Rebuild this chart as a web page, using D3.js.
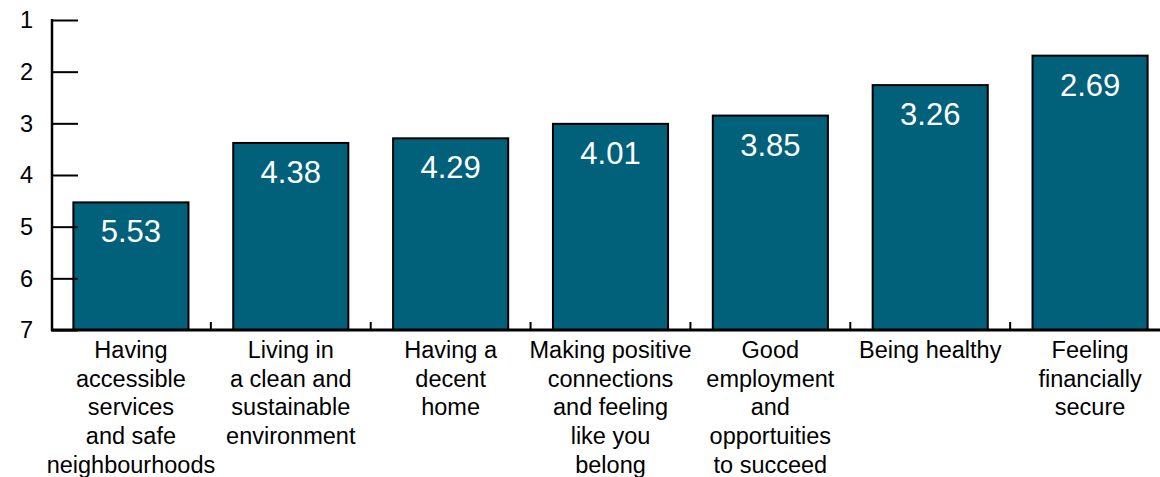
<!DOCTYPE html>
<html>
<head>
<meta charset="utf-8">
<script src="https://cdn.jsdelivr.net/npm/d3@7"></script>
<style>
  html, body { margin: 0; padding: 0; background: #fff; }
  svg { display: block; font-family: "Liberation Sans", Arial, Helvetica, sans-serif; }
</style>
</head>
<body>
<svg id="chart" width="1160" height="477"></svg>
<script>
// Average rank of each priority (1 = most important)
const categories = [
  "Having accessible services and safe neighbourhoods",
  "Living in a clean and sustainable environment",
  "Having a decent home",
  "Making positive connections and feeling like you belong",
  "Good employment and opportuities to succeed",
  "Being healthy",
  "Feeling financially secure"
];
const categoryLines = [
  ["Having", "accessible", "services", "and safe", "neighbourhoods"],
  ["Living in", "a clean and", "sustainable", "environment"],
  ["Having a", "decent", "home"],
  ["Making positive", "connections", "and feeling", "like you", "belong"],
  ["Good", "employment", "and", "opportuities", "to succeed"],
  ["Being healthy"],
  ["Feeling", "financially", "secure"]
];
const averageRank = [5.53, 4.38, 4.29, 4.01, 3.85, 3.26, 2.69];
const rankTicks = [1, 2, 3, 4, 5, 6, 7];

const svg = d3.select("#chart");
const plotTop = 20, plotBottom = 330, plotLeft = 52, plotRight = 1170;

const x = d3.scaleBand()
  .domain(categories)
  .range([plotLeft - 1, plotRight])
  .paddingInner(0.28)
  .paddingOuter(0.14);

// axis scale: rank 1 at the top
const y = d3.scaleLinear().domain([1, 7]).range([plotTop, plotBottom]);
// bar scale: bars rise from the baseline to their rank score
const yBar = d3.scaleLinear().domain([2, 8]).range([plotTop, plotBottom]);

// bars
svg.append("g")
  .selectAll("rect")
  .data(averageRank)
  .join("rect")
  .attr("x", (d, i) => x(categories[i]))
  .attr("y", d => yBar(d))
  .attr("width", x.bandwidth())
  .attr("height", d => plotBottom - yBar(d))
  .attr("fill", "#02617a")
  .attr("stroke", "#000")
  .attr("stroke-width", 2);

// value labels
svg.append("g")
  .selectAll("text")
  .data(averageRank)
  .join("text")
  .attr("x", (d, i) => x(categories[i]) + x.bandwidth() / 2)
  .attr("y", d => yBar(d) + 40)
  .attr("text-anchor", "middle")
  .attr("fill", "#fff")
  .attr("font-size", 31)
  .text(d => d.toFixed(2));

// y axis with ticks pointing into the plot
const yAxis = d3.axisRight(y).tickValues(rankTicks).tickSize(26).tickFormat("");
const yg = svg.append("g").attr("transform", `translate(${plotLeft},0)`).call(yAxis);
yg.select(".domain").remove();
yg.selectAll(".tick line").attr("stroke", "#000").attr("stroke-width", 2);
svg.append("line")
  .attr("x1", plotLeft).attr("x2", plotLeft)
  .attr("y1", y(1) - 1).attr("y2", y(7) + 1)
  .attr("stroke", "#000").attr("stroke-width", 2.5);

svg.append("g")
  .selectAll("text")
  .data(rankTicks)
  .join("text")
  .attr("x", 33)
  .attr("y", d => y(d))
  .attr("dy", "0.36em")
  .attr("text-anchor", "end")
  .attr("font-size", 23.5)
  .attr("fill", "#000")
  .text(d => d);

// x axis baseline with small separators between categories
svg.append("line")
  .attr("x1", plotLeft - 1).attr("x2", plotRight)
  .attr("y1", plotBottom).attr("y2", plotBottom)
  .attr("stroke", "#000").attr("stroke-width", 3);

const step = x.step();
svg.append("g")
  .selectAll("line")
  .data(categories.slice(1))
  .join("line")
  .attr("x1", d => x(d) - step * 0.14)
  .attr("x2", d => x(d) - step * 0.14)
  .attr("y1", plotBottom)
  .attr("y2", plotBottom - 8)
  .attr("stroke", "#000")
  .attr("stroke-width", 2);

// category labels
const labels = svg.append("g")
  .selectAll("text")
  .data(categoryLines)
  .join("text")
  .attr("text-anchor", "middle")
  .attr("font-size", 23.5)
  .attr("fill", "#000");
labels.each(function(lines, i) {
  const cx = x(categories[i]) + x.bandwidth() / 2;
  d3.select(this).selectAll("tspan")
    .data(lines)
    .join("tspan")
    .attr("x", cx)
    .attr("y", (d, j) => 358 + j * 28.7)
    .text(d => d);
});
</script>
</body>
</html>
